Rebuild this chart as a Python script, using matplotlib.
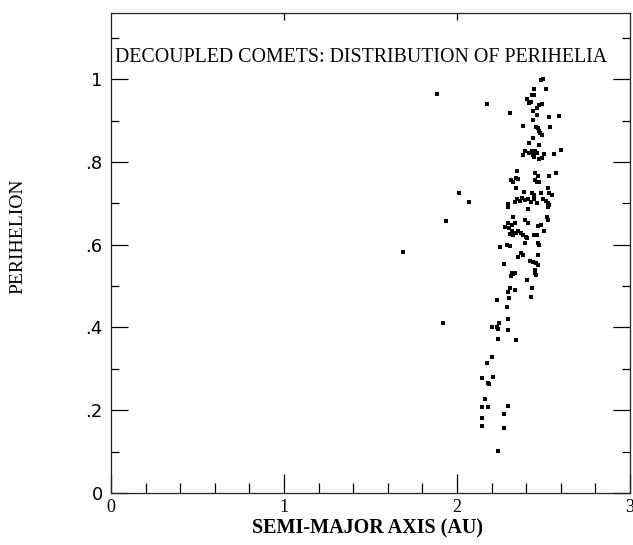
import matplotlib
matplotlib.use("Agg")
import matplotlib.pyplot as plt
from matplotlib.ticker import FixedLocator

# Semi-major axis (AU)
semi_major = [
    2.484, 2.499, 2.445, 2.514, 2.172, 2.432, 2.445, 2.403, 2.418, 2.428,
    2.490, 2.474, 2.461, 2.441, 2.306, 2.461, 2.534, 2.591, 2.438, 2.380,
    2.457, 2.470, 2.476, 2.480, 2.490, 2.538, 2.438, 2.418, 2.476, 2.599,
    2.393, 2.380, 2.418, 2.432, 2.451, 2.464, 2.441, 2.505, 2.561, 2.445,
    2.476, 2.490,
    2.345, 2.312, 2.325, 2.339, 2.354, 2.343, 2.451, 2.466, 2.532, 2.572,
    2.451, 2.461, 2.474, 2.528, 2.389, 2.435, 2.447, 2.486, 2.534, 2.547,
    2.345, 2.364, 2.374, 2.393, 2.412, 2.428, 2.447, 2.335, 2.499, 2.513,
    2.524, 2.461, 2.297, 2.293, 2.532, 2.528, 2.409,
    2.325, 2.393, 2.412, 2.518, 2.524, 2.293, 2.277, 2.301, 2.316, 2.335,
    2.306, 2.316, 2.325, 2.339, 2.354, 2.370, 2.383, 2.397, 2.403, 2.466,
    2.486, 2.505, 2.447, 2.461, 2.393, 2.466, 2.474, 2.249, 2.287, 2.306,
    2.370, 2.383, 2.466, 2.351, 2.422, 2.441, 2.455, 2.466, 2.273,
    2.316, 2.325, 2.335, 2.312, 2.451, 2.451, 2.457, 2.403, 2.306, 2.297,
    2.335, 2.432, 2.430, 2.302, 2.231, 2.291, 2.297, 2.241, 2.235, 2.201,
    2.233, 2.293, 2.237, 2.341, 2.205, 2.171, 2.146, 2.210, 2.179, 2.187,
    2.162, 2.142, 2.178, 2.292, 2.269, 2.142, 2.143, 2.273, 2.239,
    1.883, 2.012, 2.069, 1.936, 1.690, 1.921,
]

# Perihelion distance
perihelion = [
    0.997, 1.000, 0.976, 0.976, 0.941, 0.962, 0.961, 0.952, 0.943, 0.946,
    0.939, 0.937, 0.930, 0.922, 0.918, 0.914, 0.909, 0.910, 0.902, 0.888,
    0.885, 0.881, 0.876, 0.871, 0.865, 0.885, 0.857, 0.847, 0.841, 0.829,
    0.827, 0.817, 0.821, 0.827, 0.827, 0.822, 0.817, 0.819, 0.819, 0.811,
    0.807, 0.809,
    0.778, 0.757, 0.752, 0.761, 0.759, 0.738, 0.773, 0.767, 0.767, 0.773,
    0.757, 0.751, 0.752, 0.738, 0.728, 0.724, 0.720, 0.724, 0.724, 0.720,
    0.710, 0.706, 0.712, 0.708, 0.710, 0.704, 0.711, 0.704, 0.711, 0.706,
    0.700, 0.700, 0.699, 0.692, 0.696, 0.691, 0.686,
    0.666, 0.660, 0.653, 0.668, 0.660, 0.652, 0.644, 0.640, 0.648, 0.652,
    0.626, 0.632, 0.624, 0.628, 0.632, 0.629, 0.624, 0.619, 0.616, 0.645,
    0.648, 0.632, 0.624, 0.624, 0.604, 0.605, 0.599, 0.595, 0.599, 0.598,
    0.581, 0.575, 0.575, 0.570, 0.561, 0.559, 0.555, 0.551, 0.553,
    0.532, 0.529, 0.532, 0.524, 0.539, 0.531, 0.527, 0.515, 0.495, 0.485,
    0.491, 0.495, 0.474, 0.472, 0.466, 0.449, 0.420, 0.412, 0.396, 0.402,
    0.402, 0.394, 0.372, 0.370, 0.328, 0.313, 0.279, 0.281, 0.267, 0.264,
    0.226, 0.207, 0.207, 0.211, 0.190, 0.182, 0.163, 0.158, 0.102,
    0.964, 0.724, 0.703, 0.657, 0.583, 0.412,
]

x_major = [0, 1, 2, 3]
x_major_labels = ["0", "1", "2", "3"]
x_minor = [0.2, 0.4, 0.6, 0.8, 1.2, 1.4, 1.6, 1.8, 2.2, 2.4, 2.6, 2.8]
y_major = [0, 0.2, 0.4, 0.6, 0.8, 1.0]
y_major_labels = ["0", ".2", ".4", ".6", ".8", "1"]
y_minor = [0.1, 0.3, 0.5, 0.7, 0.9, 1.1]

title = "DECOUPLED COMETS: DISTRIBUTION OF PERIHELIA"

W, H = 633, 545
fig = plt.figure(figsize=(W / 100, H / 100), dpi=100)
L, R, T, B = 111, 630, 13, 493
ax = fig.add_axes([L / W, 1 - B / H, (R - L) / W, (B - T) / H])
ax.set_xlim(0, 3)
ax.set_ylim(0, 1.16)

ax.scatter(semi_major, perihelion, s=12, marker="s", c="black", linewidths=0)

for sp in ax.spines.values():
    sp.set_linewidth(0.9)
    sp.set_color("#222222")

ax.xaxis.set_major_locator(FixedLocator(x_major))
ax.xaxis.set_minor_locator(FixedLocator(x_minor))
ax.set_xticklabels(x_major_labels)
ax.yaxis.set_major_locator(FixedLocator(y_major))
ax.yaxis.set_minor_locator(FixedLocator(y_minor))
ax.set_yticklabels(y_major_labels)

ax.tick_params(axis="x", which="major", direction="in", length=14, width=0.9,
               top=False, bottom=True, pad=4, labelsize=13)
ax.tick_params(axis="x", which="minor", direction="in", length=7.5, width=0.9,
               top=False, bottom=True)
ax.tick_params(axis="y", which="major", direction="in", length=12.5, width=0.9,
               left=True, right=True, pad=6, labelsize=13)
ax.tick_params(axis="y", which="minor", direction="in", length=6, width=0.9,
               left=True, right=True)
for lab in ax.get_xticklabels():
    lab.set_family("Liberation Serif")
for lab in ax.get_yticklabels():
    lab.set_family("DejaVu Sans")

sec = ax.secondary_xaxis("top")
sec.set_xticks([1, 2])
sec.tick_params(direction="in", length=5, width=0.9, labeltop=False)
sec.spines["top"].set_visible(False)

ax.text((115 - L) / (R - L), (B - 57) / (B - T), title, transform=ax.transAxes,
        ha="left", va="center", fontsize=14.35, family="Liberation Serif")

fig.text(368 / W, 1 - 528 / H, "SEMI-MAJOR AXIS (AU)", ha="center", va="center",
         fontsize=14.5, fontweight="bold", family="Liberation Serif")
fig.text(18 / W, 1 - 236 / H, "PERIHELION", ha="center", va="center",
         rotation=90, fontsize=14, family="Liberation Serif")

fig.savefig("out.png", dpi=100)
